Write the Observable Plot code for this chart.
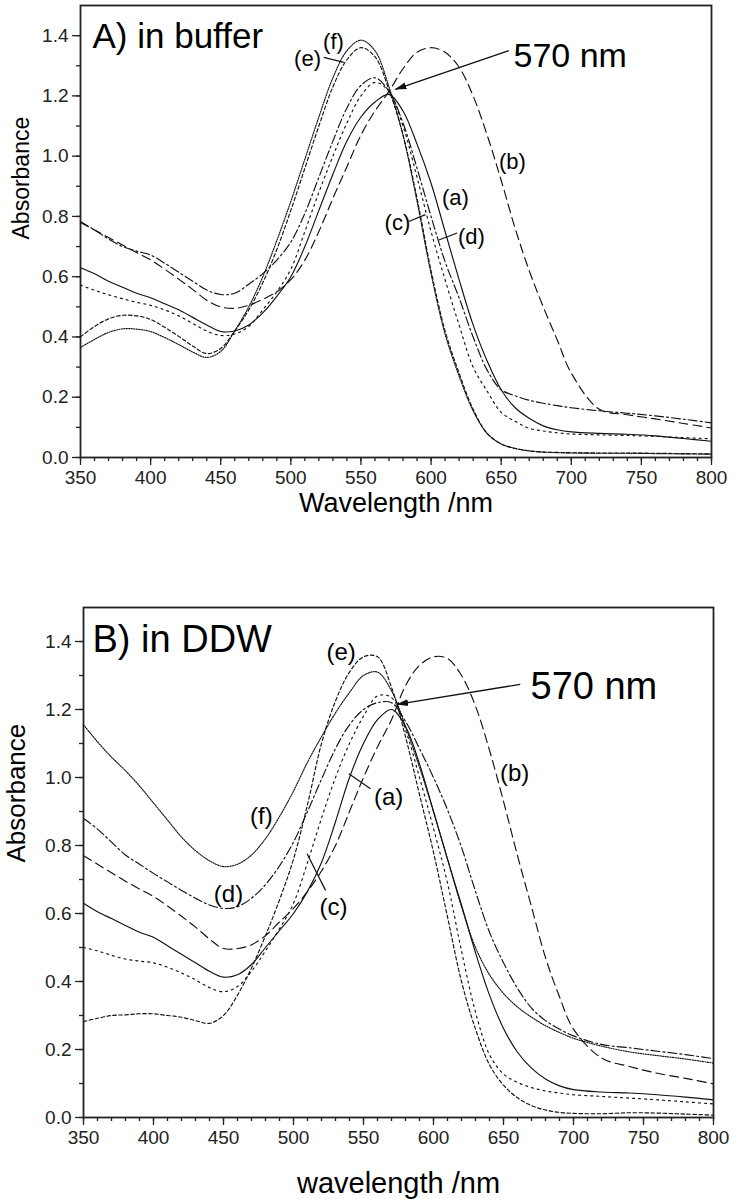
<!DOCTYPE html>
<html><head><meta charset="utf-8">
<script src="https://cdn.jsdelivr.net/npm/d3@7"></script>
<script src="https://cdn.jsdelivr.net/npm/@observablehq/plot@0.6"></script>
<style>
body{margin:0;background:#fff;}
#chart{width:733px;}
#chart svg{display:block;}
</style></head><body><div id="chart"></div>
<script>
// Wavelength grid (nm)
const wavelength = [350,360,370,380,390,400,410,420,430,440,450,460,470,480,490,500,510,520,530,540,550,560,570,580,590,600,610,620,630,640,650,660,670,680,690,700,720,740,760,780,800];
const seriesNames = ["a","b","c","d","e","f"];

// Panel A: in buffer
const bufA_a = [.630,.610,.585,.565,.545,.530,.510,.490,.465,.440,.418,.420,.440,.480,.535,.600,.700,.820,.940,1.050,1.130,1.180,1.205,1.150,1.040,.910,.750,.590,.440,.320,.225,.165,.130,.105,.092,.085,.080,.077,.072,.063,.054];
const bufA_b = [.780,.755,.730,.705,.680,.656,.625,.592,.558,.522,.500,.495,.505,.525,.550,.590,.655,.750,.860,.965,1.070,1.150,1.215,1.290,1.345,1.360,1.345,1.295,1.200,1.070,.920,.760,.620,.500,.390,.280,.160,.142,.128,.113,.098];
const bufA_c = [.572,.555,.540,.527,.515,.505,.490,.470,.445,.420,.405,.410,.435,.490,.550,.625,.750,.880,1.000,1.110,1.200,1.245,1.215,1.100,.930,.750,.590,.440,.300,.220,.150,.120,.097,.088,.082,.078,.075,.073,.070,.066,.062];
const bufA_d = [.783,.755,.725,.700,.685,.672,.645,.615,.585,.556,.541,.545,.575,.610,.655,.715,.810,.930,1.050,1.160,1.235,1.260,1.215,1.110,.960,.800,.650,.530,.400,.290,.225,.205,.190,.180,.172,.165,.155,.147,.138,.127,.115];
const bufA_e = [.400,.435,.460,.472,.470,.458,.432,.402,.370,.345,.362,.420,.490,.580,.690,.820,.960,1.100,1.230,1.320,1.360,1.330,1.220,1.070,.860,.620,.420,.280,.160,.080,.045,.030,.022,.018,.017,.016,.015,.015,.014,.013,.012];
const bufA_f = [.365,.392,.415,.427,.426,.418,.398,.375,.350,.332,.352,.420,.500,.600,.720,.850,.990,1.130,1.260,1.350,1.385,1.350,1.230,1.070,.850,.610,.410,.270,.155,.080,.045,.030,.022,.018,.016,.015,.014,.014,.013,.012,.011];

// Panel B: in DDW
const ddwB_a = [.630,.605,.585,.565,.545,.530,.505,.480,.455,.430,.413,.420,.450,.500,.550,.600,.665,.750,.870,1.000,1.100,1.170,1.200,1.150,1.040,.900,.760,.625,.485,.360,.262,.192,.145,.113,.093,.082,.075,.072,.067,.060,.052];
const ddwB_b = [.770,.745,.720,.695,.672,.650,.622,.592,.560,.525,.497,.497,.508,.535,.575,.615,.665,.725,.800,.900,1.000,1.090,1.170,1.270,1.330,1.355,1.350,1.300,1.210,1.080,.930,.770,.620,.470,.355,.260,.175,.150,.130,.115,.099];
const ddwB_c = [.500,.490,.477,.466,.460,.455,.442,.425,.405,.382,.370,.385,.430,.490,.555,.630,.750,.880,1.000,1.100,1.180,1.240,1.235,1.140,1.000,.850,.690,.490,.310,.185,.128,.103,.088,.078,.072,.067,.062,.057,.052,.046,.040];
const ddwB_d = [.880,.848,.810,.772,.745,.718,.693,.668,.645,.625,.615,.620,.645,.685,.740,.810,.900,.995,1.085,1.155,1.200,1.220,1.220,1.165,1.085,1.000,.905,.795,.665,.545,.455,.380,.322,.285,.260,.240,.215,.205,.195,.185,.173];
const ddwB_e = [.282,.292,.300,.302,.305,.305,.300,.295,.285,.277,.300,.360,.440,.535,.640,.760,.920,1.100,1.225,1.310,1.355,1.355,1.265,1.120,.950,.780,.590,.400,.260,.155,.095,.058,.035,.022,.015,.012,.011,.014,.013,.010,.007];
const ddwB_f = [1.155,1.105,1.060,1.020,.975,.925,.875,.825,.785,.755,.738,.745,.772,.820,.885,.960,1.045,1.120,1.190,1.250,1.300,1.310,1.255,1.150,1.030,.900,.760,.620,.500,.420,.365,.325,.295,.270,.250,.233,.210,.193,.182,.172,.160];

// Axis ticks
const xMajor = [350,400,450,500,550,600,650,700,750,800];
const yMajor = [0,0.2,0.4,0.6,0.8,1.0,1.2,1.4];

// Annotations (data space)
const labelsA = [
  {t:"(a)", x:617.4, y:0.862}, {t:"(b)", x:658, y:0.982}, {t:"(c)", x:576, y:0.779},
  {t:"(d)", x:628.8, y:0.732}, {t:"(e)", x:511.9, y:1.322}, {t:"(f)", x:530.4, y:1.379}
];
const leadersA = [
  {x1:523.5, y1:1.328, x2:537.8, y2:1.311},
  {x1:584.1, y1:0.783, x2:596, y2:0.806},
  {x1:618.6, y1:0.745, x2:605.5, y2:0.722}
];
const arrowA = [{x1:655.5, y1:1.35, x2:574.6, y2:1.222}];
const noteA = [{t:"570 nm", x:658.8, y:1.332}];

const labelsB = [
  {t:"(a)", x:567.9, y:0.941}, {t:"(b)", x:657.9, y:1.012}, {t:"(c)", x:528.6, y:0.618},
  {t:"(d)", x:453.6, y:0.656}, {t:"(e)", x:534, y:1.368}, {t:"(f)", x:477, y:0.885}
];
const leadersB = [
  {x1:539.5, y1:1.011, x2:555, y2:0.967},
  {x1:509.7, y1:0.776, x2:522.9, y2:0.668}
];
const arrowB = [{x1:662, y1:1.274, x2:574, y2:1.215}];
const noteB = [{t:"570 nm", x:669.3, y:1.268}];

const dashes = {a: null, b: "9,5", c: "2,4", d: "9,3,2,3", e: "3.5,2.5", f: "1.2,1.3"};
const FONT = "'Liberation Sans', Arial, Helvetica, sans-serif";

function filledArrow(color) {
  const m = d3.create("svg:marker")
    .attr("viewBox", "-6 -5 12 10")
    .attr("markerWidth", 12).attr("markerHeight", 10)
    .attr("markerUnits", "userSpaceOnUse")
    .attr("orient", "auto").attr("refX", 5)
    .attr("fill", color).attr("stroke", "none");
  m.append("path").attr("d", "M-6,-3.5L6,0L-6,3.5z");
  return m.node();
}

function panel(cfg) {
  const marks = [];
  cfg.series.forEach((vals, i) => {
    const s = seriesNames[i];
    const rows = wavelength.map((w, k) => ({wl: w, abs: vals[k]}));
    marks.push(Plot.line(rows, {x: "wl", y: "abs", stroke: "#111", strokeWidth: 1.15,
      strokeDasharray: dashes[s] || undefined, curve: "catmull-rom"}));
  });
  marks.push(
    Plot.axisX({ticks: d3.range(350, 801, 10), tickSize: 4, text: null, label: null, strokeWidth: 1.3}),
    Plot.axisX({ticks: xMajor, tickSize: 8, tickPadding: 5, fontSize: 19, label: null, strokeWidth: 1.3}),
    Plot.axisY({ticks: d3.range(0, 15).map(k => k / 10), tickSize: 4, text: null, label: null, strokeWidth: 1.3}),
    Plot.axisY({ticks: yMajor, tickSize: 8, tickPadding: 4, fontSize: 19, tickFormat: d3.format(".1f"), label: null, strokeWidth: 1.3}),
    Plot.frame({stroke: "#222", strokeWidth: 1.8}),
    Plot.text([cfg.title], {frameAnchor: "top-left", dx: cfg.titleDx, dy: 18, textAnchor: "start", lineAnchor: "top", fontSize: cfg.titleSize, fill: "#000"}),
    Plot.text([cfg.xLabel], {frameAnchor: "bottom", dy: cfg.xLabelDy, lineAnchor: "middle", fontSize: cfg.xLabelSize, fill: "#000"}),
    Plot.text(["Absorbance"], {frameAnchor: "left", dx: cfg.yLabelDx, dy: cfg.yLabelDy, rotate: -90, lineAnchor: "middle", fontSize: cfg.yLabelSize, fill: "#000"}),
    Plot.text(cfg.labels, {x: "x", y: "y", text: "t", fontSize: cfg.labelSize, fill: "#000"}),
    Plot.link(cfg.leaders, {x1: "x1", y1: "y1", x2: "x2", y2: "y2", stroke: "#111", strokeWidth: 1.2}),
    Plot.link(cfg.arrow, {x1: "x1", y1: "y1", x2: "x2", y2: "y2", stroke: "#111", strokeWidth: 1.3, markerEnd: filledArrow}),
    Plot.text(cfg.note, {x: "x", y: "y", text: "t", textAnchor: "start", lineAnchor: "middle", fontSize: cfg.noteSize, fill: "#000"})
  );
  return Plot.plot({
    width: 733, height: cfg.height,
    marginTop: cfg.mt, marginBottom: cfg.mb, marginLeft: cfg.ml, marginRight: cfg.mr,
    x: {domain: [350, 800]},
    y: {domain: [0, 1.5]},
    style: {fontFamily: FONT, color: "#222", background: "#fff", overflow: "visible"},
    marks
  });
}

const chart = document.getElementById("chart");
chart.append(panel({
  series: [bufA_a, bufA_b, bufA_c, bufA_d, bufA_e, bufA_f],
  height: 540, mt: 5, mb: 83, ml: 80, mr: 22,
  title: "A) in buffer", titleDx: 12, titleSize: 35,
  xLabel: "Wavelength /nm", xLabelDy: 46, xLabelSize: 27,
  yLabelDx: -59, yLabelDy: 8, yLabelSize: 23,
  labels: labelsA, leaders: leadersA, arrow: arrowA, note: noteA,
  labelSize: 22, noteSize: 34
}));
chart.append(panel({
  series: [ddwB_a, ddwB_b, ddwB_c, ddwB_d, ddwB_e, ddwB_f],
  height: 659, mt: 67, mb: 82, ml: 83, mr: 20,
  title: "B) in DDW", titleDx: 9, titleSize: 38,
  xLabel: "wavelength /nm", xLabelDy: 66, xLabelSize: 29,
  yLabelDx: -67, yLabelDy: 0, yLabelSize: 26,
  labels: labelsB, leaders: leadersB, arrow: arrowB, note: noteB,
  labelSize: 24, noteSize: 38
}));
</script></body></html>
